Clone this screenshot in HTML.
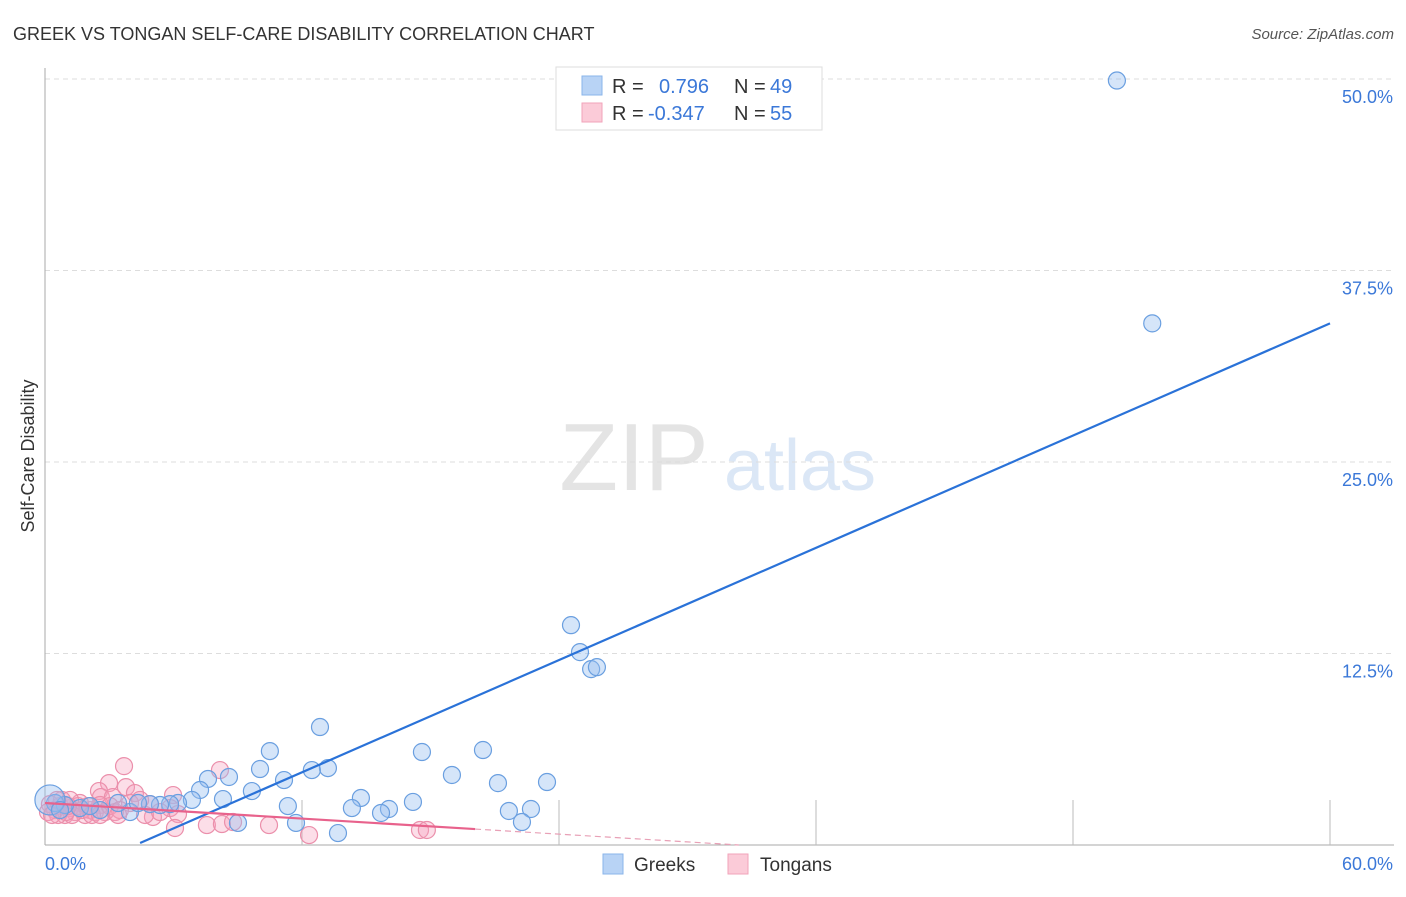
<!DOCTYPE html>
<html><head><meta charset="utf-8"><style>
body{margin:0;background:#fff;font-family:"Liberation Sans",sans-serif}
svg text{font-family:"Liberation Sans",sans-serif}
</style></head><body>
<svg id="chart" width="1406" height="892" viewBox="0 0 1406 892" xmlns="http://www.w3.org/2000/svg">
<text x="13" y="40" font-size="18" fill="#333">GREEK VS TONGAN SELF-CARE DISABILITY CORRELATION CHART</text>
<text x="1394" y="39" font-size="15" fill="#555" font-style="italic" text-anchor="end">Source: ZipAtlas.com</text>
<g>
<text x="634" y="490" font-size="96" fill="#e4e4e4" font-family="Liberation Serif" text-anchor="middle">ZIP</text>
<text x="800" y="490" font-size="72" fill="#dbe7f6" text-anchor="middle">atlas</text>
</g>
<g id="grid"></g>
<g id="axes"></g>
<g id="pts"></g>
<g id="lines"></g>
<text transform="translate(34,456) rotate(-90)" font-size="18" fill="#333" text-anchor="middle">Self-Care Disability</text>
<g>
<rect x="556" y="67" width="266" height="63" fill="#fff" stroke="#ddd"/>
<rect x="582" y="76" width="20" height="19" fill="#b8d3f5" stroke="#8ab4ea"/>
<rect x="582" y="103" width="20" height="19" fill="#fbcbd8" stroke="#f1a3ba"/>
<text x="612" y="93" font-size="20" fill="#333">R =</text>
<text x="659" y="93" font-size="20" fill="#3b78d8">0.796</text>
<text x="734" y="93" font-size="20" fill="#333">N =</text>
<text x="770" y="93" font-size="20" fill="#3b78d8">49</text>
<text x="612" y="120" font-size="20" fill="#333">R =</text>
<text x="648" y="120" font-size="20" fill="#3b78d8">-0.347</text>
<text x="734" y="120" font-size="20" fill="#333">N =</text>
<text x="770" y="120" font-size="20" fill="#3b78d8">55</text>
</g>
<g>
<rect x="603" y="854" width="20" height="20" fill="#b8d3f5" stroke="#8ab4ea"/>
<text x="634" y="871" font-size="19" fill="#333">Greeks</text>
<rect x="728" y="854" width="20" height="20" fill="#fbcbd8" stroke="#f1a3ba"/>
<text x="760" y="871" font-size="19" fill="#333">Tongans</text>
</g>
</svg>
<script>
const yTicks=[12.5,25,37.5,50];
const yTickLabels=["12.5%","25.0%","37.5%","50.0%"];
const xTicks=[12,24,36,48,60];
const greeksX=[50.05,51.7,24.56,24.98,25.5,25.77,12.84,10.5,17.6,20.45,19.0,21.15,23.44,13.21,12.46,10.04,11.16,8.59,7.61,9.66,7.24,8.31,6.86,14.75,17.18,16.06,14.33,15.69,11.34,21.66,22.69,22.27,11.72,13.68,9.01,6.21,5.84,5.37,4.9,3.97,4.34,3.41,2.57,1.63,0.93,0.47,0.23,0.7,2.1];
const greeksY=[49.9,34.05,14.35,12.59,11.48,11.61,7.7,6.13,6.07,6.2,4.57,4.04,4.11,5.02,4.89,4.96,4.24,4.44,4.31,3.52,3.59,3.0,2.94,3.07,2.81,2.35,2.41,2.09,2.54,2.22,2.35,1.5,1.44,0.78,1.44,2.74,2.67,2.61,2.67,2.15,2.74,2.74,2.28,2.41,2.61,2.74,2.94,2.28,2.54];
const tongansX=[3.69,8.17,2.99,3.78,4.2,2.52,2.61,5.98,3.17,3.97,4.9,5.84,6.21,6.07,7.56,8.26,8.78,10.46,12.33,17.51,17.83,5.04,3.27,2.57,2.1,1.63,1.4,1.17,0.93,0.7,0.47,0.23,1.87,2.33,2.8,0.79,1.54,2.01,1.26,0.61,0.98,1.73,2.19,3.03,3.5,4.44,4.67,5.37,0.14,0.33,1.17,2.57,3.41,1.07,0.56];
const tongansY=[5.15,4.89,4.04,3.78,3.39,3.52,3.13,3.26,3.13,2.74,2.67,2.41,2.02,1.11,1.3,1.37,1.5,1.3,0.65,0.98,0.98,1.83,2.15,2.61,2.28,2.74,2.15,2.41,1.96,2.54,2.28,2.67,1.96,2.15,2.15,2.94,2.54,2.54,1.96,1.96,2.15,2.28,1.96,2.54,2.28,2.94,1.96,2.15,2.15,1.96,2.94,1.96,1.96,2.54,2.94];
const greeksFit=[4.44,0.13,60,34.05];
const tongansFit=[0,2.74,20.08,1.04,32.4,0];
const NS="http://www.w3.org/2000/svg";
const X0=45,X1=1330,Y0=845,Y50=79;
function sx(v){return X0+v/60*(X1-X0);}
function sy(v){return Y0-v/50*(Y0-Y50);}
function mk(tag,attrs,parent){const e=document.createElementNS(NS,tag);for(const k in attrs)e.setAttribute(k,attrs[k]);document.getElementById(parent).appendChild(e);return e;}
yTicks.forEach((t,i)=>{
 const l=mk('line',{x1:X0,x2:1394,y1:sy(t),y2:sy(t),stroke:'#ddd','stroke-dasharray':'5,4'},'grid');
 
 
 const tx=mk('text',{x:1393,y:sy(t)+24,'font-size':18,fill:'#3b78d8','text-anchor':'end'},'grid');
 tx.textContent=yTickLabels[i];
 
 
});
const ax=mk('line',{x1:X0,x2:X0,y1:68,y2:Y0,stroke:'#aaa'},'axes');


const bx=mk('line',{x1:X0,x2:1394,y1:Y0,y2:Y0,stroke:'#aaa'},'axes');


xTicks.forEach(t=>{
 const l=mk('line',{x1:sx(t),x2:sx(t),y1:Y0,y2:Y0-45,stroke:'#bbb'},'axes');
 
 
});
const xl=mk('text',{x:45,y:870,'font-size':18,fill:'#3b78d8'},'axes');xl.textContent='0.0%';


const xr=mk('text',{x:1393,y:870,'font-size':18,fill:'#3b78d8','text-anchor':'end'},'axes');xr.textContent='60.0%';


tongansX.forEach((v,i)=>{
 const c=mk('circle',{cx:sx(v),cy:sy(tongansY[i]),r:8.5,fill:'rgba(245,160,188,0.35)',stroke:'#eb8fab','stroke-width':1.2},'pts');
 
 
});
greeksX.forEach((v,i)=>{
 const c=mk('circle',{cx:sx(v),cy:sy(greeksY[i]),r:(i==46?15:8.5),fill:'rgba(150,190,240,0.4)',stroke:'#6a9fe0','stroke-width':1.2},'pts');
 
 
});
const gl=mk('line',{x1:sx(greeksFit[0]),y1:sy(greeksFit[1]),x2:sx(greeksFit[2]),y2:sy(greeksFit[3]),stroke:'#2a72d8','stroke-width':2.2},'lines');


const tl=mk('line',{x1:sx(tongansFit[0]),y1:sy(tongansFit[1]),x2:sx(tongansFit[2]),y2:sy(tongansFit[3]),stroke:'#e8628c','stroke-width':2.2},'lines');


const td=mk('line',{x1:sx(tongansFit[2]),y1:sy(tongansFit[3]),x2:sx(tongansFit[4]),y2:sy(tongansFit[5]),stroke:'#e8a0b6','stroke-width':1.2,'stroke-dasharray':'6,4'},'lines');


</script>
</body></html>
